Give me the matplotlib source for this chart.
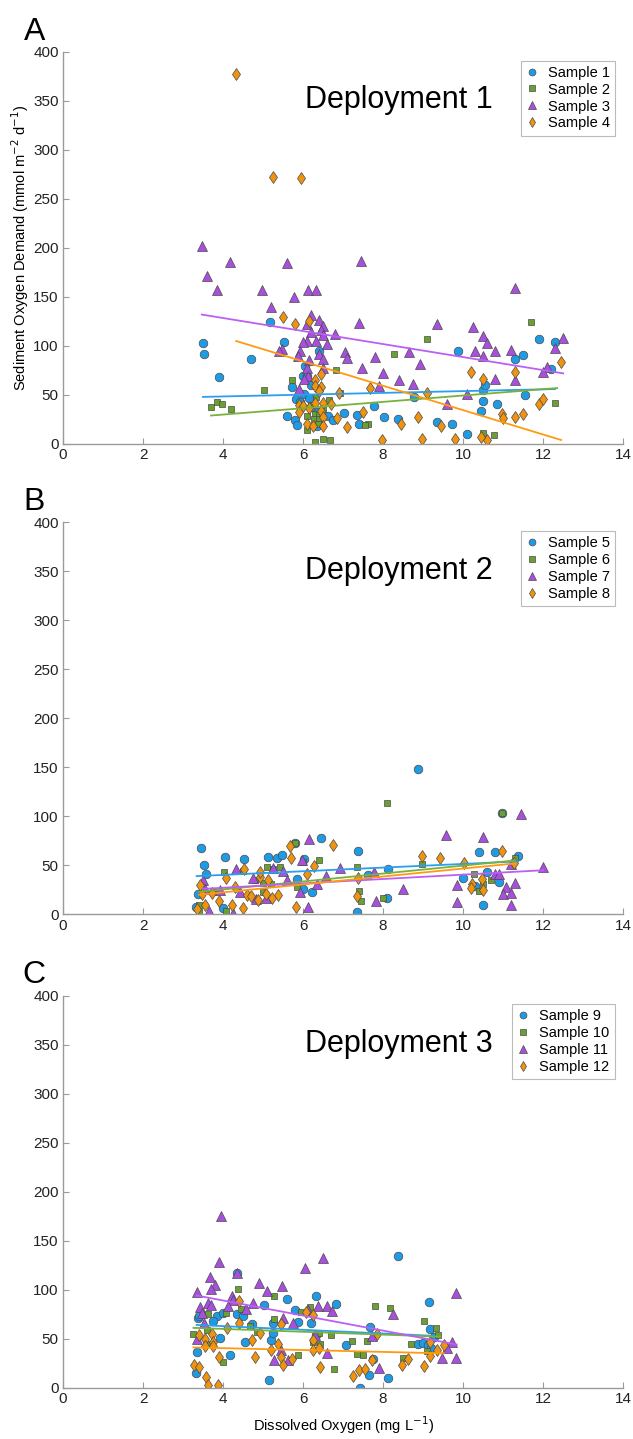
import numpy as np
import matplotlib
matplotlib.use("Agg")
import matplotlib.pyplot as plt

plt.rcParams['font.family'] = ['Liberation Sans', 'DejaVu Sans']

# ---- Deployment 1 ----
s1_x = [3.5, 3.53, 3.9, 4.7, 5.17, 5.53, 6.4, 6.06, 6.0, 6.1, 5.73, 6.03, 5.83, 5.93, 5.6, 5.8, 5.86, 6.2, 6.38, 6.63,
        6.74, 7.03, 6.34, 7.34, 7.4, 7.78, 8.03, 8.38, 8.78, 9.34, 9.72, 10.1, 9.86, 10.5, 10.45, 10.5, 10.55, 10.84,
        11.9, 12.3, 11.5, 11.3, 12.2, 11.55, 6.2, 6.15]
s1_y = [103, 92, 68, 87, 124, 104, 95, 80, 69, 69, 58, 51, 46, 43, 28, 24, 19, 38, 33, 28,
        24, 32, 18, 30, 20, 39, 27, 25, 48, 22, 20, 10, 95, 44, 34, 55, 60, 41,
        107, 104, 91, 87, 76, 50, 60, 47]
s2_x = [3.7, 3.84, 3.98, 4.19, 5.03, 5.72, 6.83, 6.33, 6.66, 6.92, 6.1, 6.3, 6.4, 6.28, 6.4, 6.38, 6.1, 6.3, 6.5, 6.68,
        9.1, 8.26, 7.63, 7.55, 10.5, 10.78, 11.7, 12.3, 6.2, 6.5]
s2_y = [38, 43, 41, 36, 55, 65, 75, 48, 45, 52, 28, 31, 30, 25, 25, 20, 14, 2, 5, 4,
        107, 92, 20, 19, 11, 9, 124, 42, 40, 36]
s3_x = [3.47, 3.59, 4.18, 3.85, 4.98, 5.6, 5.78, 6.12, 6.32, 5.2, 6.2, 6.4, 6.5, 6.1, 6.45, 6.2, 6.8, 6.5, 6.33, 6.6,
        6.1, 6.0, 5.47, 5.4, 5.93, 5.87, 6.4, 6.5, 6.15, 7.05, 7.1, 6.1, 6.5, 6.13, 6.03, 5.9, 7.4, 7.45, 9.34, 10.25,
        10.5, 10.6, 10.8, 10.3, 10.5, 7.8, 8.65, 8.93, 7.48, 8.0, 8.4, 8.75, 7.9, 10.8, 10.1, 9.6, 11.3, 12.5, 12.3,
        11.2, 11.3, 12.1, 12.0]
s3_y = [202, 171, 186, 157, 157, 185, 150, 157, 157, 140, 132, 126, 120, 122, 116, 114, 112, 111, 105, 102,
        105, 104, 97, 95, 95, 90, 92, 87, 86, 94, 88, 77, 77, 69, 66, 56, 123, 187, 122, 119,
        110, 103, 95, 95, 90, 89, 94, 82, 77, 72, 65, 61, 59, 66, 51, 41, 159, 108, 98,
        96, 65, 79, 73]
s4_x = [4.33, 5.25, 5.95, 5.5, 5.8, 6.15, 6.45, 6.3, 6.3, 6.45, 6.4, 6.9, 5.9, 6.0, 6.3, 6.5, 6.7, 6.15, 6.45, 6.5,
        6.85, 5.9, 6.1, 6.25, 6.5, 7.1, 7.67, 7.5, 8.45, 8.87, 7.98, 8.98, 9.1, 9.45, 9.8, 10.2, 10.5, 10.6, 10.45,
        12.45, 11.3, 10.98, 11.0, 11.3, 11.5, 11.9, 12.0]
s4_y = [377, 272, 271, 130, 122, 125, 71, 65, 59, 58, 54, 52, 40, 39, 42, 42, 41, 37, 34, 27,
        26, 33, 20, 18, 18, 17, 57, 33, 20, 27, 4, 5, 52, 18, 5, 73, 66, 4, 7,
        84, 73, 31, 26, 27, 31, 41, 46]

# ---- Deployment 2 ----
s5_x = [3.45, 3.53, 3.58, 4.05, 4.53, 5.12, 5.34, 5.47, 5.8, 6.45, 6.03, 5.84, 6.0, 6.23, 3.33, 3.99, 3.38, 7.37,
        7.34, 8.09, 8.13, 8.87, 10.4, 10.8, 11.37, 7.63, 10.0, 10.6, 10.3, 10.9, 10.5, 10.97]
s5_y = [68, 50, 41, 59, 56, 59, 57, 61, 73, 78, 56, 36, 26, 23, 8, 6, 21, 65,
        2, 17, 46, 148, 64, 64, 60, 40, 37, 43, 29, 33, 10, 103]
s6_x = [5.8, 5.09, 5.42, 5.25, 4.03, 4.5, 6.4, 6.0, 4.8, 4.99, 5.2, 5.84, 4.08, 3.4, 7.34, 7.4, 7.44, 8.0, 8.1,
        3.76, 10.96, 11.3, 10.28, 10.5, 10.4, 10.7, 8.97, 3.4, 5.0]
s6_y = [73, 48, 48, 46, 43, 44, 55, 53, 35, 23, 31, 28, 3, 2, 48, 24, 14, 17, 114,
        23, 103, 58, 41, 31, 24, 35, 51, 10, 32]
s7_x = [6.15, 4.32, 4.76, 5.24, 5.51, 5.97, 5.6, 5.93, 6.13, 5.08, 4.83, 4.43, 4.24, 3.66, 3.5, 3.55, 3.93, 6.93,
        6.58, 6.34, 7.83, 7.78, 9.56, 10.5, 11.45, 9.84, 9.84, 10.8, 10.9, 11.07, 11.0, 11.2, 11.3, 11.2, 12.0, 8.5, 11.2]
s7_y = [77, 46, 37, 47, 44, 55, 35, 23, 8, 17, 16, 23, 1, 3, 35, 26, 25, 47,
        39, 31, 14, 43, 81, 79, 102, 30, 13, 41, 41, 28, 21, 22, 32, 10, 48, 26, 51]
s8_x = [5.68, 5.7, 6.76, 6.28, 6.1, 4.53, 4.08, 4.3, 3.43, 3.47, 3.55, 3.36, 3.72, 3.9, 4.22, 4.49, 4.59, 4.87,
        4.93, 5.13, 5.38, 5.22, 4.69, 5.83, 7.34, 7.38, 8.98, 9.43, 10.03, 10.96, 10.47, 10.23, 10.2, 10.5, 11.26,
        5.07, 4.93]
s8_y = [70, 58, 71, 49, 41, 46, 37, 28, 30, 21, 10, 5, 22, 14, 10, 6, 20, 15,
        38, 35, 20, 17, 19, 8, 19, 37, 60, 57, 52, 65, 36, 31, 27, 25, 52,
        21, 43]

# ---- Deployment 3 ----
s9_x = [4.36, 3.37, 3.4, 3.84, 3.74, 4.01, 3.93, 3.36, 3.33, 4.18, 4.36, 4.5, 4.55, 4.72, 5.03, 5.19, 5.15, 5.24,
        5.25, 5.6, 5.8, 5.88, 6.2, 6.33, 6.33, 6.83, 7.08, 7.43, 7.65, 8.13, 7.68, 7.76, 8.37, 9.14, 9.18, 8.88, 9.0,
        9.13, 9.26, 9.2]
s9_y = [117, 71, 73, 73, 68, 76, 51, 36, 15, 33, 75, 73, 47, 65, 84, 49, 8, 66,
        56, 90, 79, 67, 66, 93, 54, 85, 43, 0, 13, 10, 62, 29, 134, 87, 60, 45, 46,
        43, 52, 40]
s10_x = [4.38, 5.28, 3.63, 4.07, 3.26, 3.59, 3.6, 4.45, 4.68, 4.84, 5.28, 5.94, 6.18, 6.26, 6.4, 6.43, 6.69, 4.01,
         5.88, 6.78, 7.22, 7.36, 7.51, 7.59, 7.8, 8.18, 8.7, 8.49, 9.03, 9.33, 9.38, 9.09]
s10_y = [101, 94, 75, 76, 55, 59, 45, 80, 63, 57, 70, 77, 82, 47, 56, 45, 54, 26,
         33, 19, 48, 34, 33, 48, 83, 81, 45, 30, 68, 61, 54, 37]
s11_x = [3.96, 3.91, 3.68, 3.8, 3.7, 3.36, 3.43, 3.48, 3.62, 3.7, 4.23, 4.25, 4.36, 4.13, 4.57, 4.74, 4.9, 5.11,
         5.48, 6.05, 6.49, 5.49, 5.76, 5.45, 5.28, 5.62, 6.13, 6.37, 6.59, 6.72, 6.6, 6.3, 3.34, 3.53, 8.24, 7.91,
         7.73, 9.83, 9.73, 9.59, 9.48, 9.81]
s11_y = [175, 128, 113, 105, 101, 98, 82, 76, 86, 84, 93, 89, 117, 83, 80, 86, 107, 99,
         104, 122, 132, 71, 66, 38, 28, 28, 79, 83, 83, 78, 35, 54, 50, 66, 75, 20,
         53, 97, 47, 40, 30, 30]
s12_x = [4.4, 4.4, 3.4, 3.55, 3.72, 3.55, 3.76, 3.76, 4.09, 3.28, 3.41, 3.57, 3.62, 3.88, 3.9, 4.73, 4.79, 4.93,
         5.2, 5.38, 5.44, 5.44, 5.51, 5.73, 6.08, 6.26, 6.24, 6.24, 6.41, 6.43, 7.86, 7.72, 8.63, 8.48, 9.03, 9.18,
         9.18, 9.34, 9.51, 7.24, 7.4, 7.55]
s12_y = [88, 66, 54, 50, 55, 42, 47, 42, 61, 23, 21, 11, 3, 3, 31, 49, 31, 56,
         38, 45, 65, 31, 23, 29, 77, 74, 49, 38, 40, 21, 55, 28, 29, 23, 22, 47,
         32, 38, 43, 12, 18, 19]

# linear fit lines: (x start, x end), (y start, y end)
fit1 = [((3.5, 12.3), (48, 56)), ((3.7, 12.35), (29, 57)), ((3.47, 12.5), (132, 72)), ((4.33, 12.45), (105, 4))]
fit2 = [((3.34, 11.37), (39, 54)), ((3.4, 11.3), (23, 55)), ((3.5, 12.0), (26, 45)), ((3.4, 11.3), (20, 52))]
fit3 = [((3.34, 9.18), (64, 53)), ((3.26, 9.43), (61, 52)), ((3.34, 9.84), (94, 44)), ((3.26, 9.51), (41, 35))]

panels = [
    ("A", "Deployment 1", [(s1_x, s1_y), (s2_x, s2_y), (s3_x, s3_y), (s4_x, s4_y)], fit1, [1, 2, 3, 4]),
    ("B", "Deployment 2", [(s5_x, s5_y), (s6_x, s6_y), (s7_x, s7_y), (s8_x, s8_y)], fit2, [5, 6, 7, 8]),
    ("C", "Deployment 3", [(s9_x, s9_y), (s10_x, s10_y), (s11_x, s11_y), (s12_x, s12_y)], fit3, [9, 10, 11, 12]),
]

face = ['#1f9be6', '#6a9f32', '#a94fe0', '#f0930f']
linec = ['#2a9ff0', '#78b23c', '#bb5ff5', '#ff9a10']
markers = ['o', 's', '^', 'd']
msize = [6.2, 4.8, 6.8, 6.2]

fig = plt.figure(figsize=(6.33, 14.39), dpi=100)
bottoms = [0.6915, 0.3646, 0.0357]
ax_w = 0.885
ax_h = 0.2724

for (letter, title, series, fits, nums), b in zip(panels, bottoms):
    ax = fig.add_axes([0.0995, b, ax_w, ax_h])
    for i, (x, y) in enumerate(series):
        ax.plot(x, y, linestyle='none', marker=markers[i], ms=msize[i], mfc=face[i],
                mec='#4a4a4a', mew=0.5, label=f"Sample {nums[i]}", zorder=2)
    for i, (fx, fy) in enumerate(fits):
        ax.plot(fx, fy, color=linec[i], lw=1.3, zorder=3)
    ax.set_xlim(0, 14)
    ax.set_ylim(0, 400)
    ax.set_xticks(np.arange(0, 15, 2))
    ax.set_yticks(np.arange(0, 401, 50))
    for s in ['top', 'right']:
        ax.spines[s].set_visible(False)
    for s in ['left', 'bottom']:
        ax.spines[s].set_color('#9a9a9a')
        ax.spines[s].set_linewidth(1.0)
    ax.tick_params(direction='in', length=4, width=0.8, color='#9a9a9a',
                   labelsize=11, labelcolor='#222222', pad=3)
    ax.text(0.432, 0.877, title, transform=ax.transAxes, fontsize=22, va='center', ha='left')
    fig.text(0.054, b + ax_h + 0.014, letter, fontsize=23, ha='center', va='center')
    leg = ax.legend(loc='upper right', bbox_to_anchor=(0.985, 0.978), fontsize=10.5,
                    frameon=True, fancybox=False, edgecolor='#aaaaaa', borderpad=0.35,
                    labelspacing=0.2, handlelength=0.8, handletextpad=0.7, markerscale=0.8,
                    borderaxespad=0)
    leg.get_frame().set_linewidth(0.8)
    if letter == "A":
        ax.set_ylabel("Sediment Oxygen Demand (mmol m$^{-2}$ d$^{-1}$)", fontsize=10.5, labelpad=2)
    if letter == "C":
        ax.set_xlabel("Dissolved Oxygen (mg L$^{-1}$)", fontsize=10.5, labelpad=6)

fig.savefig("out.png", dpi=100)
